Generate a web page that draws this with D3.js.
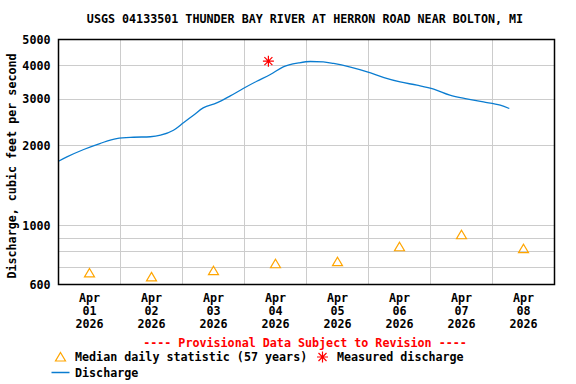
<!DOCTYPE html>
<html>
<head>
<meta charset="utf-8">
<script src="https://cdn.jsdelivr.net/npm/d3@7"></script>
<style>
  body { margin: 0; background: #fff; }
  text { font-family: "DejaVu Sans Mono", monospace; font-weight: bold; }
</style>
</head>
<body>
<div id="chart"></div>
<script>
(function(d3) {
    'use strict';

    var title = 'USGS 04133501 THUNDER BAY RIVER AT HERRON ROAD NEAR BOLTON, MI';

    // discharge, cfs (traced)
    var flowTimes = [
        '2026-04-01 00:00', '2026-04-01 03:15', '2026-04-01 09:45', '2026-04-01 16:00',
        '2026-04-01 22:30', '2026-04-02 05:00', '2026-04-02 11:30', '2026-04-02 15:30',
        '2026-04-02 20:30', '2026-04-03 00:30', '2026-04-03 04:15', '2026-04-03 08:00',
        '2026-04-03 13:15', '2026-04-03 18:30', '2026-04-03 23:30', '2026-04-04 04:45',
        '2026-04-04 10:00', '2026-04-04 15:00', '2026-04-04 21:00', '2026-04-05 01:30',
        '2026-04-05 06:30', '2026-04-05 10:30', '2026-04-05 17:00', '2026-04-05 23:30',
        '2026-04-06 06:00', '2026-04-06 12:15', '2026-04-06 18:45', '2026-04-07 01:15',
        '2026-04-07 07:30', '2026-04-07 14:00', '2026-04-07 20:30', '2026-04-08 03:00',
        '2026-04-08 06:30'
    ];
    var flowValues = [
        1744, 1810, 1930, 2032,
        2122, 2146, 2155, 2184,
        2280, 2438, 2597, 2766,
        2888, 3069, 3272, 3485,
        3693, 3945, 4083, 4134,
        4120, 4063, 3935, 3778,
        3598, 3464, 3367, 3253,
        3088, 2990, 2913, 2831,
        2752
    ];

    var days = ['2026-04-01', '2026-04-02', '2026-04-03', '2026-04-04',
                '2026-04-05', '2026-04-06', '2026-04-07', '2026-04-08'];
    var medianValues = [663, 641, 676, 718, 731, 832, 923, 818];

    var measuredTimes = ['2026-04-04 09:15'];
    var measuredValues = [4144];

    var yTickLabels = [600, 1000, 2000, 3000, 4000, 5000];
    var yGrid = [700, 800, 900, 1000, 2000, 3000, 4000];

    var width = 576,
        height = 384;
    var left = 58.5, right = 554.5, top = 39.5, bottom = 284.5;
    var fontSize = '11.7px';

    var parseTime = d3.timeParse('%Y-%m-%d %H:%M');
    var parseDay = d3.timeParse('%Y-%m-%d');

    var flow = flowTimes.map(function(t, i) {
        return { date: parseTime(t), value: flowValues[i] };
    });
    var medians = days.map(function(d, i) {
        return { date: d3.timeHour.offset(parseDay(d), 12), value: medianValues[i] };
    });
    var measured = measuredTimes.map(function(t, i) {
        return { date: parseTime(t), value: measuredValues[i] };
    });

    var x = d3.scaleTime()
        .domain([parseDay('2026-04-01'), parseDay('2026-04-09')])
        .range([left, right]);

    var y = d3.scaleLog()
        .domain([600, 5000])
        .range([bottom, top]);

    var svg = d3.select('#chart').append('svg')
        .attr('width', width)
        .attr('height', height);

    svg.append('text')
        .attr('x', 305)
        .attr('y', 23)
        .attr('text-anchor', 'middle')
        .style('font-size', fontSize)
        .text(title);

    // grid
    svg.append('g')
        .selectAll('line')
        .data(yGrid)
        .enter().append('line')
        .attr('x1', left).attr('x2', right)
        .attr('y1', function(d) { return Math.round(y(d)) + 0.5; })
        .attr('y2', function(d) { return Math.round(y(d)) + 0.5; })
        .attr('stroke', '#cccccc');

    svg.append('g')
        .selectAll('line')
        .data(d3.timeDay.range(parseDay('2026-04-02'), parseDay('2026-04-09')))
        .enter().append('line')
        .attr('y1', top).attr('y2', bottom)
        .attr('x1', function(d) { return Math.round(x(d)) - 0.5; })
        .attr('x2', function(d) { return Math.round(x(d)) - 0.5; })
        .attr('stroke', '#cccccc');

    // y axis labels
    var yAxis = d3.axisLeft(y)
        .tickValues(yTickLabels)
        .tickFormat(d3.format('d'))
        .tickSize(0)
        .tickPadding(8);

    svg.append('g')
        .attr('transform', 'translate(' + left + ',0)')
        .call(yAxis)
        .call(function(g) {
            g.select('.domain').remove();
            g.selectAll('text')
                .style('font-size', fontSize)
                .style('font-family', '"DejaVu Sans Mono", monospace')
                .attr('fill', '#000');
        });

    svg.append('text')
        .attr('transform', 'translate(16,166) rotate(-90)')
        .attr('text-anchor', 'middle')
        .style('font-size', fontSize)
        .text('Discharge, cubic feet per second');

    // x axis labels
    var xAxis = d3.axisBottom(x)
        .tickValues(medians.map(function(d) { return d.date; }))
        .tickSize(0)
        .tickFormat('');

    var xg = svg.append('g')
        .attr('transform', 'translate(0,' + bottom + ')')
        .call(xAxis);
    xg.select('.domain').remove();
    var xfmt = [d3.timeFormat('%b'), d3.timeFormat('%d'), d3.timeFormat('%Y')];
    xg.selectAll('.tick').each(function(d) {
        var t = d3.select(this).append('text')
            .attr('text-anchor', 'middle')
            .attr('fill', '#000')
            .style('font-size', fontSize);
        xfmt.forEach(function(f, i) {
            t.append('tspan')
                .attr('x', -0.5)
                .attr('y', 17 + i * 13)
                .text(f(d));
        });
    });

    // discharge line
    var line = d3.line()
        .x(function(d) { return x(d.date); })
        .y(function(d) { return y(d.value); })
        .curve(d3.curveMonotoneX);

    svg.append('path')
        .datum(flow)
        .attr('d', line)
        .attr('fill', 'none')
        .attr('stroke', '#0a7cd0')
        .attr('stroke-width', 1.3);

    // median triangles
    var tri = 'M0,-4.5L5,4L-5,4Z';
    svg.append('g')
        .selectAll('path')
        .data(medians)
        .enter().append('path')
        .attr('transform', function(d) {
            return 'translate(' + x(d.date) + ',' + y(d.value) + ')';
        })
        .attr('d', tri)
        .attr('fill', 'none')
        .attr('stroke', '#ffa500')
        .attr('stroke-width', 1.2);

    // measured asterisk
    var star = 'M0,-5.5V5.5M-5.5,0H5.5M-4,-4L4,4M-4,4L4,-4';
    svg.append('g')
        .selectAll('path')
        .data(measured)
        .enter().append('path')
        .attr('transform', function(d) {
            return 'translate(' + x(d.date) + ',' + y(d.value) + ')';
        })
        .attr('d', star)
        .attr('stroke', '#ff0000')
        .attr('stroke-width', 1.2);

    // frame
    svg.append('rect')
        .attr('x', left).attr('y', top)
        .attr('width', right - left).attr('height', bottom - top)
        .attr('fill', 'none')
        .attr('stroke', '#000')
        .attr('stroke-width', 1.5);

    // provisional note
    svg.append('text')
        .attr('x', 305)
        .attr('y', 347)
        .attr('text-anchor', 'middle')
        .attr('fill', '#ff0000')
        .style('font-size', fontSize)
        .text('---- Provisional Data Subject to Revision ----');

    // legend
    var legend = svg.append('g');
    legend.append('path')
        .attr('transform', 'translate(60.5,357)')
        .attr('d', tri)
        .attr('fill', 'none')
        .attr('stroke', '#ffa500')
        .attr('stroke-width', 1.2);
    legend.append('text')
        .attr('x', 75).attr('y', 361)
        .style('font-size', fontSize)
        .text('Median daily statistic (57 years)');
    legend.append('path')
        .attr('transform', 'translate(322.5,357)')
        .attr('d', star)
        .attr('stroke', '#ff0000')
        .attr('stroke-width', 1.2);
    legend.append('text')
        .attr('x', 337).attr('y', 361)
        .style('font-size', fontSize)
        .text('Measured discharge');
    legend.append('line')
        .attr('x1', 51.5).attr('x2', 69.5)
        .attr('y1', 372.5).attr('y2', 372.5)
        .attr('stroke', '#0a7cd0')
        .attr('stroke-width', 1.5);
    legend.append('text')
        .attr('x', 75).attr('y', 377)
        .style('font-size', fontSize)
        .text('Discharge');

})(window.d3);
</script>
</body>
</html>
